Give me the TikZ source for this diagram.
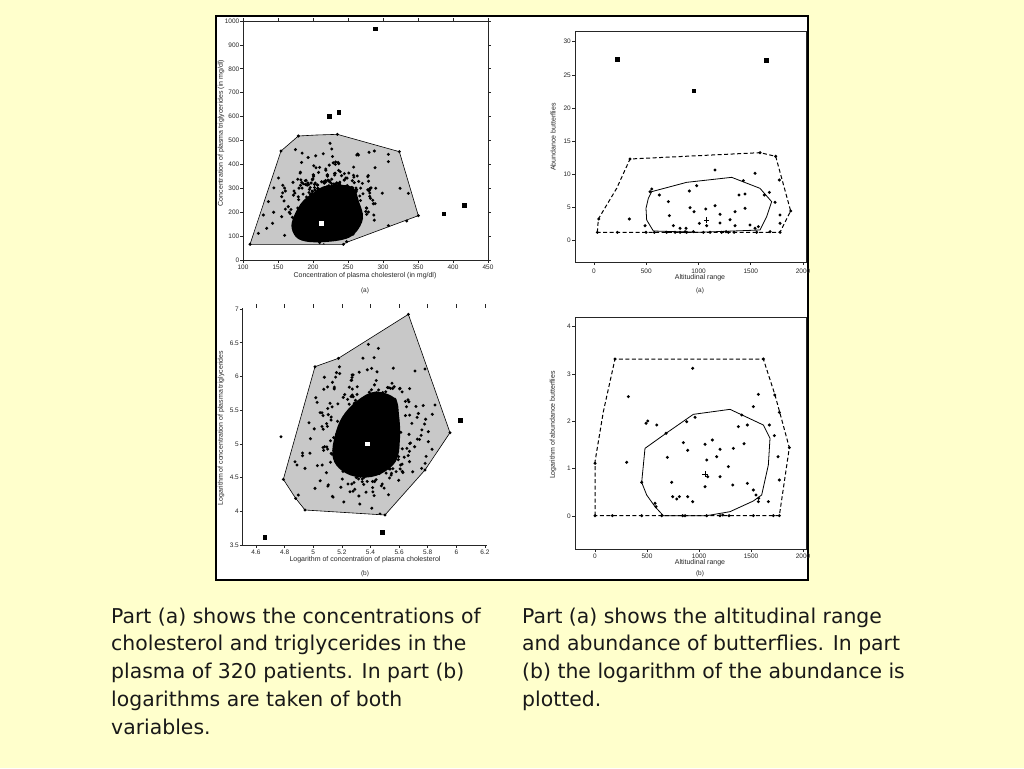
\documentclass[tikz,border=0pt]{standalone}
\usepackage{fontspec}
\setmainfont{DejaVu Sans}
\newfontfamily\smallsans{Liberation Sans}
\definecolor{bgyellow}{RGB}{255,255,204}
\definecolor{hullgray}{RGB}{200,200,200}
\begin{document}
\begin{tikzpicture}[x=1pt,y=-1pt,
  lab/.style={font=\smallsans\fontsize{6.5}{7}\selectfont, text=black!85, inner sep=0pt},
  ttl/.style={font=\smallsans\fontsize{7}{8}\selectfont, text=black!85, inner sep=0pt},
  captext/.style={font=\fontsize{20.4}{24}\selectfont, anchor=base west, inner sep=0pt, text=black!90},
  axis/.style={line width=0.7pt, draw=black!85},
  hull/.style={fill=hullgray, draw=black, line width=0.6pt},
  dhull/.style={draw=black, line width=1pt, dash pattern=on 4pt off 2.5pt},
  shull/.style={draw=black, line width=0.8pt},
  zoomed/.style={scale=0.33333}]
\useasboundingbox (0,0) rectangle (1024,768);
\fill[bgyellow] (0,0) rectangle (1024,768);
% figure frame
\filldraw[fill=white, draw=black, line width=2pt] (216,16) rectangle (808,580);

% ================= top-left plot =================
\draw[axis] (243,21) rectangle (488,260);
\foreach \v [count=\k] in {0,100,...,1000}{
  \pgfmathsetmacro\yy{260-\v*0.239}
  \draw[axis] (240,\yy) -- (243,\yy) (488,\yy) -- (491,\yy);
  \node[lab,anchor=east] (tly\k) at (239.5,\yy) {\v};
}
\foreach \v [count=\k] in {100,150,...,450}{
  \pgfmathsetmacro\xx{243+(\v-100)*0.7}
  \draw[axis] (\xx,260) -- (\xx,263) (\xx,21) -- (\xx,18);
  \node[lab] (tlx\k) at (\xx,267.5) {\v};
}
\node[ttl] (tlxt) at (365,275.5) {Concentration of plasma cholesterol (in mg/dl)};
\node[lab] (tlsub) at (365,291) {(a)};
\node[ttl,rotate=90] (tlyt) at (221,133) {Concentration of plasma triglycerides (in mg/dl)};
\begin{scope}[shift={(215,15)}, zoomed]
  \filldraw[hull] (105,688) -- (198,408) -- (250,363) -- (305,360) -- (367,358) -- (553,410) -- (610,602) -- (395,682) -- (385,688) -- cycle;
  \fill[black] plot[smooth cycle, tension=0.6] coordinates {(236,605) (262,560) (300,530) (335,512) (410,515) (432,560) (444,610) (420,655) (380,675) (300,682) (250,672) (230,640)};
  \begin{scope}
    \clip (105,688) -- (198,408) -- (250,363) -- (305,360) -- (367,358) -- (553,410) -- (610,602) -- (395,682) -- (385,688) -- cycle;
    \pgfmathsetseed{4711}
    \foreach \i in {1,...,360}{
      \pgfmathsetmacro\ua{345+66*(rand+rand+rand)}
      \pgfmathsetmacro\ub{548+54*(rand+rand+rand)}
      \fill (\ua,\ub) circle (5);
    }
  \end{scope}
  \foreach \p in {(105,688),(198,408),(250,363),(367,358),(553,410),(610,602),(385,688),(395,680),(575,618),(520,632),(580,535),(555,520),(478,408),(462,412),(430,420),(520,418),(345,385),(350,402),(425,420),(160,560),(145,600),(155,640),(130,655),(200,545),(480,458),(520,440)}
    \fill \p circle (5);
  \foreach \p in {(482,42),(343,304),(372,293),(687,597),(748,572)}
    \fill \p ++(-7,-7) rectangle ++(14,14);
  \fill[white] (313,618) rectangle (327,632);
\end{scope}

% ================= top-right plot =================
\draw[axis] (575,31) rectangle (806,262);
\foreach \v [count=\k] in {0,5,...,30}{
  \pgfmathsetmacro\yy{240.7-\v*6.633}
  \draw[axis] (572,\yy) -- (575,\yy);
  \node[lab,anchor=east] (try\k) at (571,\yy) {\v};
}
\foreach \v [count=\k] in {0,500,...,2000}{
  \pgfmathsetmacro\xx{594+\v*0.1045}
  \draw[axis] (\xx,262) -- (\xx,265);
  \node[lab] (trx\k) at (\xx,271.5) {\v};
}
\node[ttl] (trxt) at (700,278) {Altitudinal range};
\node[lab] (trsub) at (700,291) {(a)};
\node[ttl,rotate=90] (tryt) at (553,137) {Abundance butterflies};
\begin{scope}[shift={(540,15)}, zoomed]
  \draw[dhull] (172,652) -- (175,612) -- (230,520) -- (270,432) -- (660,413) -- (707,424) -- (752,588) -- (720,652) -- cycle;
  \draw[shull] (318,580) -- (325,550) -- (335,530) -- (440,502) -- (575,487) -- (660,520) -- (695,560) -- (680,605) -- (660,645) -- (475,652) -- (340,648) -- (320,615) -- cycle;
  \foreach \p in {(176,612),(232,652),(270,432),(268,612),(315,632),(318,652),(330,530),(335,522),(343,652),(358,540),(385,560),(388,602),(400,632),(405,652),(420,640),(438,640),(435,650),(448,528),(462,590),(450,578),(470,512),(460,650),(478,625),(497,582),(500,632),(510,652),(525,465),(525,572),(540,598),(540,624),(545,652),(558,650),(570,614),(582,652),(585,590),(585,632),(597,540),(615,580),(615,537),(610,497),(630,630),(645,475),(645,640),(655,635),(660,413),(673,540),(688,532),(690,650),(705,562),(707,424),(718,495),(720,600),(720,625),(720,652),(752,588),(172,652),(565,652),(440,652),(420,652),(490,652),(650,652),(380,652)}
    \fill \p circle (5);
  \foreach \p in {(232,133),(462,228),(680,137)}
    \fill \p ++(-7,-7) rectangle ++(14,14);
  \draw[line width=0.6pt] (492,615) -- (508,615) (500,607) -- (500,623);
\end{scope}

% ================= bottom-left plot =================
\draw[axis] (242.5,308) -- (242.5,545) -- (487,545);
\foreach \v [count=\k] in {3.5,4,4.5,5,5.5,6,6.5,7}{
  \pgfmathsetmacro\yy{545-(\v-3.5)*67.4}
  \draw[axis] (239.5,\yy) -- (242.5,\yy);
  \node[lab,anchor=east] (lly\k) at (239,\yy) {\v};
}
\foreach \v [count=\k] in {4.6,4.8,5,5.2,5.4,5.6,5.8,6,6.2}{
  \pgfmathsetmacro\xx{256+(\v-4.6)*143.1}
  \draw[axis] (\xx,545) -- (\xx,548) (\xx,304) -- (\xx,307.5);
  \node[lab] (llx\k) at (\xx,552) {\v};
}
\node[ttl] (llxt) at (365,560) {Logarithm of concentration of plasma cholesterol};
\node[lab] (llsub) at (365,573.5) {(b)};
\node[ttl,rotate=90] (llyt) at (221,428) {Logarithm of concentration of plasma triglycerides};
\begin{scope}[shift={(215,295)}, zoomed]
  \filldraw[hull] (580,58) -- (705,413) -- (630,525) -- (510,660) -- (270,645) -- (242,610) -- (205,553) -- (300,215) -- (370,190) -- cycle;
  \fill[black] plot[smooth cycle, tension=0.6] coordinates {(480,290) (540,310) (552,360) (555,430) (542,500) (485,542) (420,545) (372,520) (352,480) (360,420) (382,365) (425,318)};
  \begin{scope}
    \clip (580,58) -- (705,413) -- (630,525) -- (510,660) -- (270,645) -- (242,610) -- (205,553) -- (300,215) -- (370,190) -- cycle;
    \pgfmathsetseed{2024}
    \foreach \i in {1,...,380}{
      \pgfmathsetmacro\ua{455+84*(rand+rand+rand)}
      \pgfmathsetmacro\ub{420+100*(rand+rand+rand)}
      \fill (\ua,\ub) circle (5);
    }
  \end{scope}
  \foreach \p in {(580,58),(705,413),(630,525),(510,660),(270,645),(242,610),(205,553),(300,215),(370,190),(198,425),(460,148),(490,160),(470,220),(600,228),(630,222),(555,280),(660,330),(640,440),(240,500),(250,600),(270,520),(300,580),(620,520),(640,410)}
    \fill \p circle (5);
  \foreach \p in {(150,727),(503,712),(737,377)}
    \fill \p ++(-7,-7) rectangle ++(14,14);
  \fill[white] (451,440) rectangle (465,454);
\end{scope}

% ================= bottom-right plot =================
\draw[axis] (575,317) rectangle (806,549);
\foreach \v [count=\k] in {0,1,2,3,4}{
  \pgfmathsetmacro\yy{516-\v*47.33}
  \draw[axis] (572,\yy) -- (575,\yy);
  \node[lab,anchor=east] (lry\k) at (571,\yy) {\v};
}
\foreach \v [count=\k] in {0,500,...,2000}{
  \pgfmathsetmacro\xx{595+\v*0.104}
  \draw[axis] (\xx,549) -- (\xx,552);
  \node[lab] (lrx\k) at (\xx,556.5) {\v};
}
\node[ttl] (lrxt) at (700,563) {Altitudinal range};
\node[lab] (lrsub) at (700,574) {(b)};
\node[ttl,rotate=90] (lryt) at (553,425) {Logarithm of abundance butterflies};
\begin{scope}[shift={(540,295)}, zoomed]
  \draw[dhull] (165,662) -- (165,500) -- (190,350) -- (225,192) -- (670,192) -- (705,300) -- (748,458) -- (718,662) -- cycle;
  \draw[shull] (305,562) -- (315,460) -- (378,415) -- (460,358) -- (570,343) -- (670,390) -- (690,430) -- (685,510) -- (665,600) -- (640,618) -- (570,650) -- (500,662) -- (370,662) -- (345,635) -- (320,600) -- cycle;
  \foreach \p in {(165,505),(225,192),(265,305),(260,502),(165,662),(217,662),(305,662),(323,378),(318,385),(350,390),(345,625),(348,635),(365,662),(378,415),(382,487),(395,562),(398,605),(410,612),(418,605),(428,662),(435,662),(430,443),(440,380),(443,605),(443,466),(458,620),(458,220),(465,367),(495,448),(500,495),(503,545),(495,575),(500,662),(517,435),(530,485),(540,545),(540,662),(548,660),(540,463),(565,515),(567,662),(578,570),(580,460),(595,395),(605,360),(612,446),(622,390),(622,565),(640,585),(640,662),(648,600),(655,620),(656,610),(655,298),(670,192),(688,390),(685,620),(700,662),(704,300),(703,422),(714,485),(718,555),(718,662),(718,352),(748,458),(640,335),(305,562)}
    \fill \p circle (5);
  \draw[line width=0.6pt] (487,537) -- (503,537) (495,529) -- (495,545);
\end{scope}

% ================= captions =================
\node[captext] (c1) at (111,623) {Part (a) shows the concentrations of};
\node[captext] (c2) at (111,650.8) {cholesterol and triglycerides in the};
\node[captext] (c3) at (111,678.6) {plasma of 320 patients. In part (b)};
\node[captext] (c4) at (111,706.4) {logarithms are taken of both};
\node[captext] (c5) at (111,734.2) {variables.};
\node[captext] (d1) at (522,623) {Part (a) shows the altitudinal range};
\node[captext] (d2) at (522,650.8) {and abundance of butterflies. In part};
\node[captext] (d3) at (522,678.6) {(b) the logarithm of the abundance is};
\node[captext] (d4) at (522,706.4) {plotted.};
\end{tikzpicture}
\end{document}
